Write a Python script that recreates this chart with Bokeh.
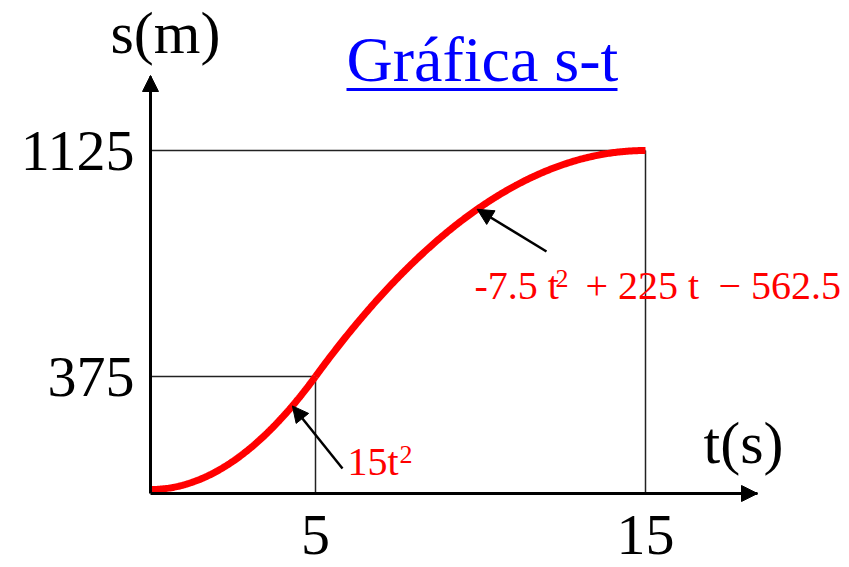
import numpy as np
from bokeh.plotting import figure
from bokeh.models import Range1d, FixedTicker, Label, Arrow, NormalHead, BoxAnnotation
from bokeh.embed import file_html
from bokeh.resources import INLINE

# ---- data -------------------------------------------------------------
# position s(t) is piecewise: s = a t^2 + b t + c on each time interval
t_knots = [0, 5, 15]                 # s
piece1_coef = [15.0, 0.0, 0.0]       # 15 t^2          (0 <= t <= 5)
piece2_coef = [-7.5, 225.0, -562.5]  # -7.5 t^2 + 225 t - 562.5   (5 <= t <= 15)
x_ticks = [5, 15]                    # t (s)
y_ticks = [375, 1125]                # s (m)

# ---- layout (pixels on the 849 x 567 canvas) --------------------------
W, H = 849, 567
AX_L, AX_R, AX_T, AX_B = 150, 757, 76, 493   # extent of the two axis lines
X0, KX = 150, 33.0                    # pixel of t = 0, pixels per second
Y0 = 489                              # pixel of s = 0
KY = (Y0 - 150) / 1125.0              # pixels per metre

def tx(px):
    return (px - X0) / KX

def sy(py):
    return (Y0 - py) / KY

SERIF = "Liberation Serif"

# the frame fills the whole canvas; the axes are pinned inside it
p = figure(width=W, height=H, output_backend="svg", toolbar_location=None,
           x_range=Range1d(tx(0), tx(W)), y_range=Range1d(sy(H), sy(0)),
           min_border=0)
p.outline_line_color = None
p.grid.visible = False
p.background_fill_color = "white"
p.border_fill_color = "white"

xa, ya = p.xaxis[0], p.yaxis[0]
xa.fixed_location = sy(AX_B)
xa.bounds = (0, tx(AX_R))
ya.fixed_location = 0
ya.bounds = (sy(AX_B), sy(AX_T))

for ax, ticks, standoff in ((xa, x_ticks, 22), (ya, y_ticks, 16)):
    ax.ticker = FixedTicker(ticks=ticks)
    ax.major_tick_in = 0
    ax.major_tick_out = 0
    ax.minor_tick_in = 0
    ax.minor_tick_out = 0
    ax.axis_line_width = 3
    ax.axis_line_color = "black"
    ax.major_label_text_font = SERIF
    ax.major_label_text_font_size = "58px"
    ax.major_label_text_color = "black"
    ax.major_label_standoff = standoff

# thin guide lines from each tick to the curve
s_end = np.polyval(piece2_coef, t_knots[2])
s_mid = np.polyval(piece1_coef, t_knots[1])
p.line([0, t_knots[2]], [s_end, s_end], line_color="#222222", line_width=1.5)
p.line([t_knots[2], t_knots[2]], [sy(AX_B), s_end], line_color="#222222", line_width=1.5)
p.line([0, t_knots[1]], [s_mid, s_mid], line_color="#222222", line_width=1.5)
p.line([t_knots[1], t_knots[1]], [sy(AX_B), s_mid], line_color="#222222", line_width=1.5)

# the two branches of s(t)
t1 = np.linspace(t_knots[0], t_knots[1], 120)
t2 = np.linspace(t_knots[1], t_knots[2], 240)
p.line(t1, np.polyval(piece1_coef, t1), line_color="red", line_width=7)
p.line(t2, np.polyval(piece2_coef, t2), line_color="red", line_width=7)

# arrow heads on the axes
p.add_layout(Arrow(end=NormalHead(size=16, fill_color="black", line_color="black"),
                   x_start=0, y_start=sy(120), x_end=0, y_end=sy(AX_T - 1),
                   line_alpha=0))
p.add_layout(Arrow(end=NormalHead(size=16, fill_color="black", line_color="black"),
                   x_start=tx(700), y_start=sy(AX_B), x_end=tx(AX_R), y_end=sy(AX_B),
                   line_alpha=0))

def text(txt, px, baseline_py, size, color="black"):
    # the svg text sits about a third of the font size below the anchor,
    # so the anchor is lifted by that much to land on the wanted baseline
    p.add_layout(Label(x=tx(px), y=sy(baseline_py - 0.34 * size), text=txt,
                       text_font=SERIF, text_font_size=f"{size}px",
                       text_color=color, text_baseline="alphabetic"))

# axis names
text("s(m)", 110, 53, 60)
text("t(s)", 703, 463, 60)

# underlined title
text("Gráfica s-t", 346, 81, 64, "#0000FF")
p.add_layout(BoxAnnotation(left=tx(346), right=tx(617), bottom=sy(90.5), top=sy(87.5),
                           fill_color="#0000FF", fill_alpha=1.0, line_alpha=0))

# formula labels with pointers
def pointer(t_head, coef, tail_px, tail_py):
    p.add_layout(Arrow(end=NormalHead(size=16, fill_color="black", line_color="black"),
                       x_start=tx(tail_px), y_start=sy(tail_py),
                       x_end=t_head, y_end=np.polyval(coef, t_head),
                       line_color="black", line_width=2.5))

pointer(9.9, piece2_coef, 546, 251)
pointer(4.3, piece1_coef, 342, 468)

text("-7.5 t", 474, 299, 40, "red")
text("2", 555, 287, 26, "red")
text("+ 225 t", 585, 299, 40, "red")
text("\u2212 562.5", 718, 299, 40, "red")
text("15t", 347, 475, 40, "red")
text("2", 399, 463, 26, "red")

open("out.html", "w").write(file_html(p, INLINE))
